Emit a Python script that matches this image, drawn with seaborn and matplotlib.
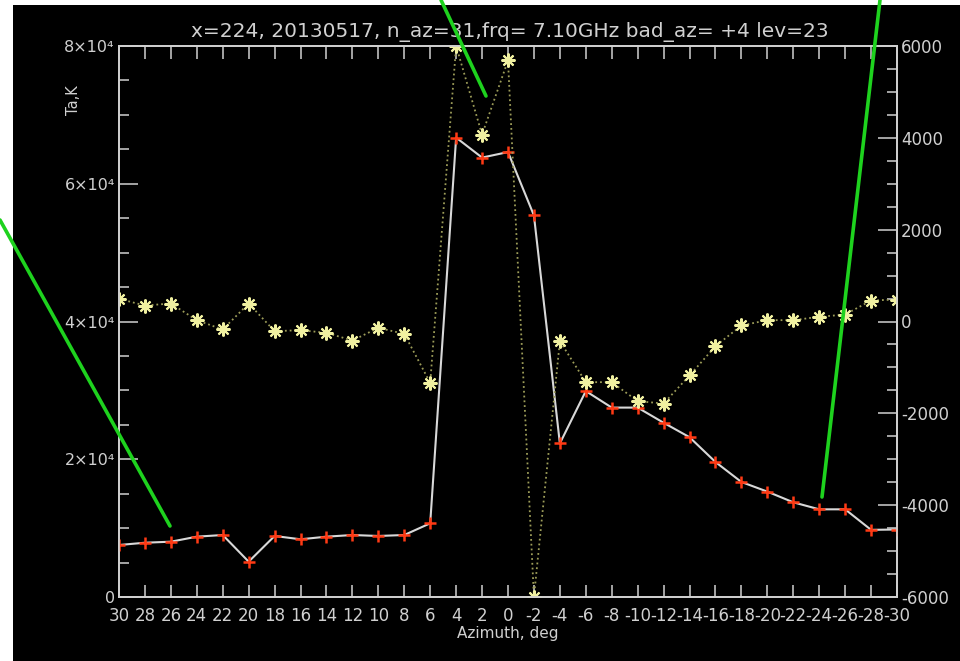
import numpy as np
import matplotlib
matplotlib.use("Agg")
import matplotlib.pyplot as plt
import seaborn as sns
from matplotlib.lines import Line2D
from matplotlib.patches import Rectangle
from matplotlib.ticker import MultipleLocator

# azimuth, deg (30 .. -30, step 2)
azimuth = [30, 28, 26, 24, 22, 20, 18, 16, 14, 12, 10, 8, 6, 4, 2, 0,
           -2, -4, -6, -8, -10, -12, -14, -16, -18, -20, -22, -24, -26, -28, -30]

# antenna temperature Ta, K (left axis)
ta = [7550, 7880, 8030, 8760, 9000, 5130, 8860, 8380, 8760, 9000, 8860, 9000,
      10700, 66700, 63800, 64600, 55400, 22300, 29900, 27500, 27500, 25300,
      23200, 19600, 16700, 15300, 13750, 12730, 12730, 9750, 9800]

# second series (right axis)
diff = [494, 348, 392, 28, -174, 392, -211, -189, -247, -414, -138, -269,
        -1336, 6000, 4070, 5685, -6000, -428, -1321, -1321, -1735, -1786,
        -1176, -537, -87, 29, 29, 102, 152, 457, 479]

x_ticks = list(range(30, -31, -2))
ta_ticks = [0, 20000, 40000, 60000, 80000]
ta_tick_labels = ["0", "2×10⁴", "4×10⁴", "6×10⁴", "8×10⁴"]
diff_ticks = [-6000, -4000, -2000, 0, 2000, 4000, 6000]

title = "x=224, 20130517, n_az=31,frq= 7.10GHz bad_az= +4 lev=23"

fg = "#d0d0d0"
sns.set_theme(style="ticks", rc={
    "axes.edgecolor": fg, "axes.labelcolor": fg, "text.color": fg,
    "xtick.color": fg, "ytick.color": fg, "axes.linewidth": 1.3,
    "xtick.direction": "in", "ytick.direction": "in",
})
plt.rcParams["font.family"] = ["DejaVu Sans"]

fig = plt.figure(figsize=(9.6, 6.61), dpi=100, facecolor="white")
fig.add_artist(Rectangle((13 / 960, 0), 1, 1 - 5 / 661, transform=fig.transFigure,
                         facecolor="black", edgecolor="none", zorder=0))

ax = fig.add_axes([119 / 960, 64 / 661, 778 / 960, 551 / 661])
ax.set_facecolor("none")
ax2 = ax.twinx()
ax2.set_facecolor("none")

sns.lineplot(x=azimuth, y=ta, ax=ax, color="#d8d8d8", lw=1.5, sort=False,
             marker="+", ms=9, mew=1.8, mec="#ff3a14", zorder=3)
sns.lineplot(x=azimuth, y=diff, ax=ax2, color="#9c9c58", lw=1.3, ls=":", sort=False,
             marker=(8, 2, 0), ms=10, mew=1.5, mec="#f0f0a0", zorder=2)

ax.set_xlim(30, -30)
ax.set_ylim(0, 80000)
ax2.set_ylim(-6000, 6000)

ax.set_xticks(x_ticks)
ax.set_xticklabels([str(v) for v in x_ticks], fontsize=12)
ax.set_yticks(ta_ticks)
ax.set_yticklabels(ta_tick_labels, fontsize=11.5)
ax.yaxis.set_minor_locator(MultipleLocator(5000))
ax2.set_yticks(diff_ticks)
ax2.set_yticklabels([str(v) for v in diff_ticks], fontsize=12)
ax2.yaxis.set_minor_locator(MultipleLocator(500))

ax.tick_params(axis="x", top=True, length=9, width=1.1, pad=7)
ax.tick_params(axis="y", which="major", length=14, width=1.1, pad=3, right=False)
ax.tick_params(axis="y", which="minor", length=7, width=1.1, right=False)
ax2.tick_params(axis="y", which="major", length=14, width=1.1, pad=3)
ax2.tick_params(axis="y", which="minor", length=7, width=1.1)
for a in (ax, ax2):
    for s in a.spines.values():
        s.set_color(fg)
        s.set_linewidth(1.3)

ax.set_xlabel("Azimuth, deg", fontsize=11, labelpad=1)
ax.set_ylabel("")
ax2.set_ylabel("")
fig.text(74 / 960, 1 - 100 / 661, "Ta,K", rotation=90, fontsize=10.5,
         ha="center", va="center", color=fg)
fig.text(510 / 960, 1 - 32 / 661, title, fontsize=14.5, ha="center", va="center", color=fg)

# green overlay strokes
for (x0, y0), (x1, y1) in [((0, 220), (170, 526)), ((441, 0), (486, 96)), ((880, 0), (822, 497))]:
    fig.add_artist(Line2D([x0 / 960, x1 / 960], [1 - y0 / 661, 1 - y1 / 661],
                          transform=fig.transFigure, color="#1ed21e", lw=2.6, zorder=10))

fig.savefig("out.png", dpi=100, facecolor="white")
